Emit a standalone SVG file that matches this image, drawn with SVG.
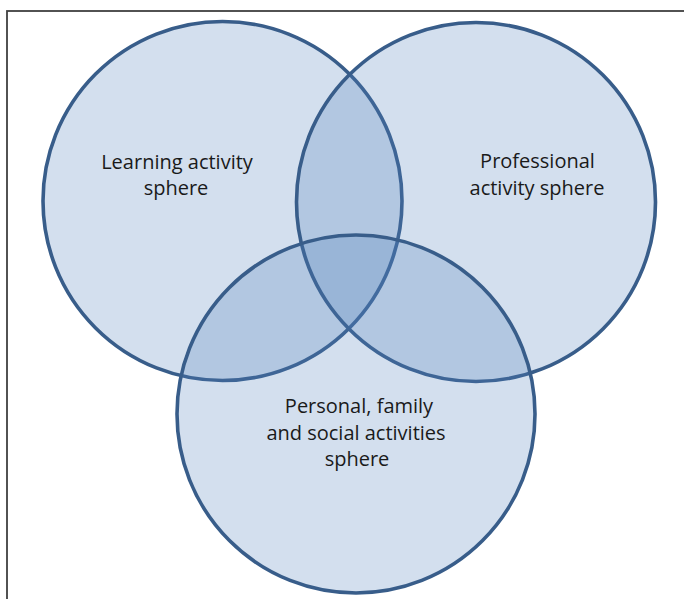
<svg xmlns="http://www.w3.org/2000/svg" width="684" height="599" viewBox="0 0 684 599">
<style>
.frame{fill:#ffffff;stroke:#404040;stroke-width:1.8}
.sphere{fill:#4f81bd;fill-opacity:0.25;stroke:#385d8a;stroke-width:3.6}
.lbl{font-family:"Open Sans","Noto Sans","Liberation Sans",sans-serif;font-size:20px;fill:#1a1a1a;text-anchor:middle}
</style>
<rect class="frame" x="7" y="11" width="700" height="620"/>
<g id="learning">
<circle class="sphere" cx="222.5" cy="201" r="179.5"/>
<text class="lbl" x="177" y="169">Learning activity</text>
<text class="lbl" x="176" y="195">sphere</text>
</g>
<g id="professional">
<circle class="sphere" cx="476" cy="202" r="179.5"/>
<text class="lbl" x="537.5" y="168">Professional</text>
<text class="lbl" x="537" y="195">activity sphere</text>
</g>
<g id="personal">
<circle class="sphere" cx="356" cy="414" r="179"/>
<text class="lbl" x="359" y="413">Personal, family</text>
<text class="lbl" x="356" y="440">and social activities</text>
<text class="lbl" x="357" y="466">sphere</text>
</g>
<g id="connectors"/>
</svg>
